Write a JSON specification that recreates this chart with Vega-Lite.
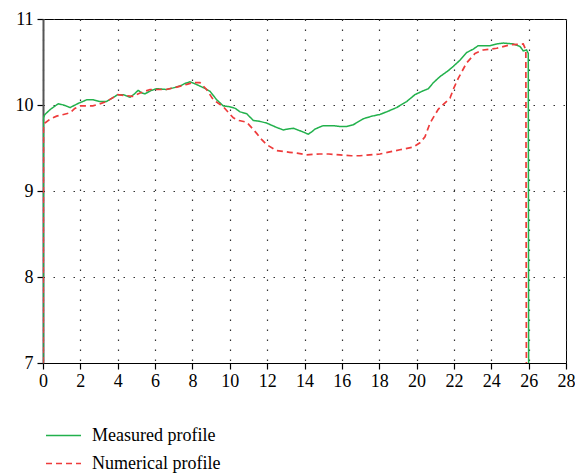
{
  "$schema": "https://vega.github.io/schema/vega-lite/v6.json",
  "autosize": {"type": "none"},
  "padding": {"left": 43, "top": 19, "right": 9, "bottom": 113},
  "width": 523,
  "height": 344,
  "background": "white",
  "config": {
    "view": {"stroke": "black", "strokeWidth": 1},
    "font": "Liberation Serif"
  },
  "datasets": {
    "measured": [
      {"x":0.0,"y":7.0},{"x":0.02,"y":9.85},{"x":0.1,"y":9.89},{"x":0.4,"y":9.95},{"x":0.82,"y":10.015},{"x":1.1,"y":10.0},{"x":1.45,"y":9.97},{"x":1.9,"y":10.02},{"x":2.34,"y":10.06},{"x":2.7,"y":10.06},{"x":3.05,"y":10.04},{"x":3.4,"y":10.04},{"x":3.7,"y":10.08},{"x":4.0,"y":10.12},{"x":4.3,"y":10.12},{"x":4.66,"y":10.09},{"x":4.9,"y":10.13},{"x":5.09,"y":10.17},{"x":5.3,"y":10.14},{"x":5.46,"y":10.13},{"x":5.8,"y":10.17},{"x":6.09,"y":10.19},{"x":6.6,"y":10.18},{"x":7.0,"y":10.2},{"x":7.33,"y":10.22},{"x":7.6,"y":10.25},{"x":7.87,"y":10.27},{"x":8.1,"y":10.25},{"x":8.4,"y":10.22},{"x":8.6,"y":10.2},{"x":8.94,"y":10.16},{"x":9.3,"y":10.06},{"x":9.65,"y":9.99},{"x":10.0,"y":9.98},{"x":10.3,"y":9.96},{"x":10.55,"y":9.92},{"x":10.9,"y":9.9},{"x":11.26,"y":9.82},{"x":11.6,"y":9.81},{"x":11.97,"y":9.79},{"x":12.5,"y":9.74},{"x":12.86,"y":9.71},{"x":13.1,"y":9.72},{"x":13.4,"y":9.73},{"x":13.76,"y":9.7},{"x":14.0,"y":9.68},{"x":14.2,"y":9.66},{"x":14.4,"y":9.69},{"x":14.56,"y":9.72},{"x":15.0,"y":9.76},{"x":15.54,"y":9.76},{"x":15.9,"y":9.75},{"x":16.26,"y":9.75},{"x":16.61,"y":9.77},{"x":17.15,"y":9.84},{"x":17.6,"y":9.87},{"x":18.04,"y":9.89},{"x":18.5,"y":9.93},{"x":18.93,"y":9.97},{"x":19.47,"y":10.04},{"x":19.91,"y":10.12},{"x":20.3,"y":10.16},{"x":20.63,"y":10.19},{"x":20.9,"y":10.26},{"x":21.25,"y":10.33},{"x":21.7,"y":10.4},{"x":21.97,"y":10.45},{"x":22.32,"y":10.52},{"x":22.68,"y":10.61},{"x":23.04,"y":10.65},{"x":23.3,"y":10.69},{"x":23.93,"y":10.69},{"x":24.3,"y":10.71},{"x":24.64,"y":10.72},{"x":25.18,"y":10.71},{"x":25.54,"y":10.68},{"x":25.71,"y":10.63},{"x":25.89,"y":10.64},{"x":25.98,"y":10.6},{"x":26.0,"y":7.0}
    ],
    "numerical": [
      {"x":0.0,"y":7.0},{"x":0.02,"y":9.75},{"x":0.1,"y":9.79},{"x":0.4,"y":9.84},{"x":0.73,"y":9.87},{"x":1.1,"y":9.89},{"x":1.45,"y":9.91},{"x":1.7,"y":9.96},{"x":1.98,"y":9.99},{"x":2.67,"y":9.99},{"x":3.0,"y":10.01},{"x":3.4,"y":10.04},{"x":3.7,"y":10.08},{"x":4.0,"y":10.12},{"x":4.4,"y":10.11},{"x":4.8,"y":10.1},{"x":5.2,"y":10.14},{"x":5.73,"y":10.18},{"x":6.6,"y":10.18},{"x":7.2,"y":10.21},{"x":7.7,"y":10.24},{"x":8.0,"y":10.26},{"x":8.4,"y":10.26},{"x":8.76,"y":10.18},{"x":9.12,"y":10.06},{"x":9.65,"y":9.98},{"x":10.19,"y":9.85},{"x":10.5,"y":9.82},{"x":10.9,"y":9.8},{"x":11.2,"y":9.73},{"x":11.44,"y":9.67},{"x":11.7,"y":9.6},{"x":11.97,"y":9.54},{"x":12.5,"y":9.47},{"x":13.2,"y":9.45},{"x":13.6,"y":9.44},{"x":14.1,"y":9.42},{"x":14.8,"y":9.43},{"x":15.3,"y":9.43},{"x":15.9,"y":9.42},{"x":16.5,"y":9.41},{"x":16.97,"y":9.41},{"x":17.5,"y":9.42},{"x":18.04,"y":9.43},{"x":19.11,"y":9.48},{"x":19.82,"y":9.51},{"x":20.18,"y":9.56},{"x":20.45,"y":9.63},{"x":20.72,"y":9.79},{"x":21.16,"y":9.95},{"x":21.79,"y":10.08},{"x":22.0,"y":10.2},{"x":22.23,"y":10.31},{"x":22.68,"y":10.49},{"x":23.13,"y":10.6},{"x":23.57,"y":10.64},{"x":24.29,"y":10.66},{"x":25.0,"y":10.7},{"x":25.71,"y":10.71},{"x":25.85,"y":10.64},{"x":25.88,"y":7.0}
    ]
  },
  "encoding": {
    "x": {"field": "x", "type": "quantitative", "scale": {"domain": [0, 28], "nice": false}, "axis": {"values": [0,2,4,6,8,10,12,14,16,18,20,22,24,26,28], "tickCount": 40, "format": "d", "labelOverlap": false, "labelBound": false, "labelFlush": false, "title": null, "grid": true, "gridDash": [1.5, 8.5], "gridColor": "#333", "gridWidth": 1.2, "domainColor": "black", "domainWidth": 1.2, "tickColor": "black", "tickSize": 6, "tickWidth": 1.2, "labelFont": "Liberation Serif", "labelFontSize": 18, "labelColor": "black", "labelPadding": 3}},
    "y": {"field": "y", "type": "quantitative", "scale": {"domain": [7, 11], "nice": false}, "axis": {"values": [7,8,9,10,11], "tickCount": 20, "format": "d", "labelOverlap": false, "title": null, "grid": true, "gridDash": [1.5, 8.5], "gridColor": "#333", "gridWidth": 1.2, "domainColor": "#555", "domainWidth": 2, "tickColor": "black", "tickSize": 6, "tickWidth": 1.2, "labelFont": "Liberation Serif", "labelFontSize": 18, "labelColor": "black", "labelPadding": 4}},
    "color": {"field": "series", "type": "nominal", "scale": {"domain": ["Measured profile", "Numerical profile"], "range": ["#22b14c", "#ee3b3b"]}, "legend": {"title": null, "orient": "none", "legendX": 2, "legendY": 398, "symbolType": "stroke", "symbolSize": 1225, "symbolStrokeWidth": 1.5, "labelFont": "Liberation Serif", "labelFontSize": 18, "labelColor": "black", "labelOffset": 10, "rowPadding": -1}},
    "strokeDash": {"field": "series", "type": "nominal", "scale": {"domain": ["Measured profile", "Numerical profile"], "range": [[1, 0], [6, 4]]}, "legend": {"title": null, "orient": "none", "legendX": 2, "legendY": 398, "symbolType": "stroke", "symbolSize": 1225, "symbolStrokeWidth": 1.5, "labelFont": "Liberation Serif", "labelFontSize": 18, "labelColor": "black", "labelOffset": 10, "rowPadding": -1}},
    "order": {"field": "idx", "type": "quantitative"}
  },
  "layer": [
    {
      "data": {"name": "measured"},
      "transform": [
        {"calculate": "'Measured profile'", "as": "series"},
        {"window": [{"op": "row_number", "as": "idx"}]}
      ],
      "mark": {"type": "line", "strokeWidth": 1.5, "clip": true}
    },
    {
      "data": {"name": "numerical"},
      "transform": [
        {"calculate": "'Numerical profile'", "as": "series"},
        {"window": [{"op": "row_number", "as": "idx"}]}
      ],
      "mark": {"type": "line", "strokeWidth": 1.7, "clip": true}
    }
  ]
}
